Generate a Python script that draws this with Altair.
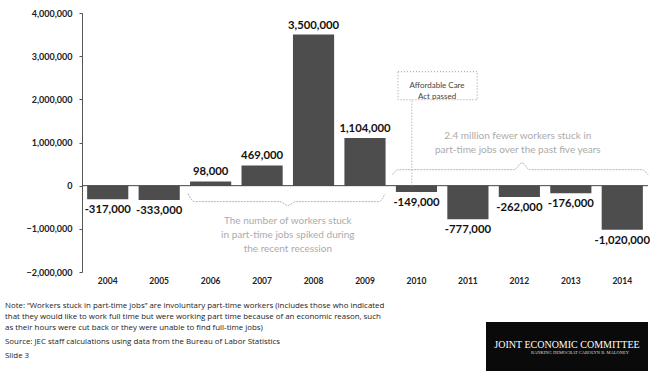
import altair as alt
import pandas as pd

# ---------------- data ----------------
years = ["2004", "2005", "2006", "2007", "2008", "2009", "2010", "2011", "2012", "2013", "2014"]
change = [-317000, -333000, 98000, 469000, 3500000, 1104000, -149000, -777000, -262000, -176000, -1020000]
y_ticks = [-2000000, -1000000, 0, 1000000, 2000000, 3000000, 4000000]

recession_text = "The number of workers stuck\nin part-time jobs spiked during\nthe recent recession"
recovery_text = "2.4 million fewer workers stuck in\npart-time jobs over the past five years"
aca_text = "Affordable Care\nAct passed"
note_text = ("Note: \u201cWorkers stuck in part-time jobs\u201d are involuntary part-time workers (includes those who indicated\n"
             "that they would like to work full time but were working part time because of an economic reason, such\n"
             "as their hours were cut back or they were unable to find full-time jobs)")
source_text = "Source: JEC staff calculations using data from the Bureau of Labor Statistics"
slide_text = "Slide 3"
logo_title = "JOINT ECONOMIC COMMITTEE"
logo_sub = "RANKING DEMOCRAT CAROLYN B. MALONEY"

# ---------------- layout ----------------
W, H = 566, 259
PAD = {"left": 82, "top": 13, "right": 2, "bottom": 99}
FONT = "Lato"

df = pd.DataFrame({"year": years, "change": change})
df["label"] = [f"{v:,}" for v in change]

y_scale = alt.Scale(domain=[-2000000, 4000000], nice=False, zero=False)
y_axis = alt.Axis(title=None, values=y_ticks, format=",d", grid=False,
                  domainColor="#555", tickColor="#555", tickSize=3,
                  labelPadding=7, labelFont=FONT, labelFontWeight="bold",
                  labelFontSize=9, labelColor="#222")

x_enc = alt.X("year:N",
              scale=alt.Scale(paddingInner=0.2, paddingOuter=0.1),
              axis=alt.Axis(title=None, labelAngle=0, domain=False, ticks=False,
                            labelPadding=4, labelFont=FONT, labelFontWeight="bold",
                            labelFontSize=8.5, labelColor="#222"))
y_enc = alt.Y("change:Q", scale=y_scale, axis=y_axis)

base = alt.Chart(df)
bars = base.mark_bar(color="#4d4d4d").encode(x=x_enc, y=y_enc)
pos_labels = base.transform_filter("datum.change >= 0").mark_text(
    baseline="bottom", dy=-4, font=FONT, fontWeight="bold", fontSize=11.3, color="#111"
).encode(x=x_enc, y=y_enc, text="label:N")
neg_labels = base.transform_filter("datum.change < 0").mark_text(
    baseline="top", dy=5, font=FONT, fontWeight="bold", fontSize=11.3, color="#111"
).encode(x=x_enc, y=y_enc, text="label:N")

zero = alt.Chart(pd.DataFrame({"change": [0]})).mark_rule(color="#444", strokeWidth=1).encode(
    y=alt.Y("change:Q", scale=y_scale, axis=y_axis))

main = alt.layer(bars, zero, pos_labels, neg_labels)

# ---------------- annotations (band units on an auxiliary x scale) ----------------
ux = lambda f: alt.X(f, scale=alt.Scale(domain=[0, len(years)], nice=False, zero=False), axis=None)
vy = lambda f: alt.Y(f, scale=y_scale, axis=y_axis)


def brace(name, u0, u1, utip, y_end, y_flat, y_tip):
    pts = [(u0, y_end), (u0 + 0.12, y_flat), (utip - 0.15, y_flat), (utip, y_tip),
           (utip + 0.15, y_flat), (u1 - 0.12, y_flat), (u1, y_end)]
    return pd.DataFrame({"brace": name, "u": [p[0] for p in pts], "change": [p[1] for p in pts]})


i06, i09, i10, i14 = years.index("2006"), years.index("2009"), years.index("2010"), years.index("2014")
braces = pd.concat([
    brace("recession", i06 + 0.06, i09 + 0.89, 4.0, -185000, -370000, -460000),
    brace("recovery", i10 + 0.03, i14 + 1.0, 8.55, 254000, 370000, 530000),
])
brace_layer = alt.Chart(braces).mark_line(
    color="#b5b5b5", strokeWidth=1, interpolate="monotone", strokeDash=[2, 1]
).encode(x=ux("u:Q"), y=vy("change:Q"), detail="brace:N")

ann_text = pd.DataFrame({"u": [4.0, 8.47], "change": [-820000, 1150000],
                         "t": [recession_text, recovery_text]})
ann_layer = alt.Chart(ann_text).mark_text(
    font=FONT, fontSize=10, color="#ababab", lineBreak="\n", lineHeight=14, baseline="middle"
).encode(x=ux("u:Q"), y=vy("change:Q"), text="t:N")

aca_box = alt.Chart(pd.DataFrame({"u0": [i10 + 0.14], "u1": [i10 + 1.68],
                                  "change": [1990000], "v1": [2640000]})).mark_rect(
    fillOpacity=0, stroke="#999", strokeWidth=1, strokeDash=[1, 2]
).encode(x=ux("u0:Q"), x2="u1:Q", y=vy("change:Q"), y2="v1:Q")
aca_line = alt.Chart(pd.DataFrame({"u": [i10 + 0.41], "change": [0], "v1": [1990000]})).mark_rule(
    color="#999", strokeWidth=1, strokeDash=[1, 2]
).encode(x=ux("u:Q"), y=vy("change:Q"), y2="v1:Q")
aca_txt = alt.Chart(pd.DataFrame({"u": [i10 + 0.9], "change": [2310000], "t": [aca_text]})).mark_text(
    font=FONT, fontSize=8, color="#444", lineBreak="\n", lineHeight=11, baseline="middle"
).encode(x=ux("u:Q"), y=vy("change:Q"), text="t:N")

# ---------------- footer ----------------
one = pd.DataFrame({"k": [0]})
foot_note = alt.Chart(one).mark_text(
    text=note_text, align="left", baseline="middle", font="Open Sans", fontSize=7.9,
    color="#222", lineBreak="\n", lineHeight=11
).encode(x=alt.value(-77), y=alt.value(293))
foot_src = alt.Chart(one).mark_text(
    text=source_text, align="left", baseline="middle", font="Open Sans", fontSize=7.9, color="#222"
).encode(x=alt.value(-77), y=alt.value(329))
foot_slide = alt.Chart(one).mark_text(
    text=slide_text, align="left", baseline="middle", font="Open Sans", fontSize=7.9, color="#222"
).encode(x=alt.value(-77), y=alt.value(343))

logo_box = alt.Chart(one).mark_rect(color="#0a0a0a").encode(
    x=alt.value(404), x2=alt.value(566), y=alt.value(309), y2=alt.value(358))
logo_t = alt.Chart(one).mark_text(
    text=logo_title, font="Liberation Serif", fontSize=10, color="white", baseline="middle"
).encode(x=alt.value(485), y=alt.value(332))
logo_s = alt.Chart(one).mark_text(
    text=logo_sub, font="Liberation Serif", fontSize=4.5, color="#ddd", baseline="middle"
).encode(x=alt.value(498), y=alt.value(340))

chart = alt.layer(
    main,
    brace_layer, ann_layer, aca_box, aca_line, aca_txt,
    foot_note, foot_src, foot_slide, logo_box, logo_t, logo_s
).resolve_scale(x="independent").properties(
    width=W, height=H, padding=PAD, autosize=alt.AutoSizeParams(type="none"),
    background="white"
).configure_view(stroke=None)

chart.save("out.html", embed_options={"renderer": "svg", "actions": False})
